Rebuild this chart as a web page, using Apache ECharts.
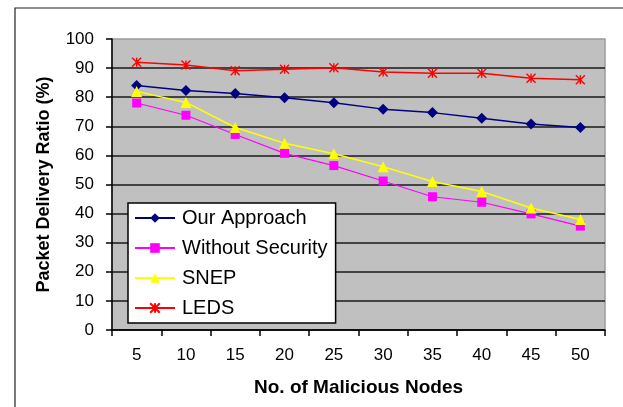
<!DOCTYPE html>
<html>
<head>
<meta charset="utf-8">
<style>
  html, body { margin: 0; padding: 0; background: #ffffff; }
  #chart { width: 623px; height: 407px; }
</style>
<script src="https://cdn.jsdelivr.net/npm/echarts@6/dist/echarts.min.js"></script>
</head>
<body>
<div id="chart"></div>
<script>
// Number of malicious nodes in the network
const nodes = ['5', '10', '15', '20', '25', '30', '35', '40', '45', '50'];

// Packet delivery ratio (%) per scheme
const ourApproach     = [84, 82.3, 81.3, 79.8, 78.1, 75.9, 74.7, 72.8, 70.8, 69.6];
const withoutSecurity = [78, 73.8, 67.2, 60.7, 56.5, 51.2, 45.8, 43.9, 39.9, 35.7];
const snep            = [82, 78.2, 69.6, 64.2, 60.6, 56.1, 51.0, 47.6, 41.9, 38.0];
const leds            = [92, 91.1, 89.1, 89.6, 90.1, 88.7, 88.2, 88.2, 86.5, 86.0];

const seriesNames = ['Our Approach', 'Without Security', 'SNEP', 'LEDS'];

const FONT = "'Liberation Sans', Arial, Helvetica, sans-serif";

// asterisk-style marker: an X crossed by a vertical bar
const starPath = 'path://M0,0L10,10M10,0L0,10M5,0L5,10';

const chart = echarts.init(document.getElementById('chart'), null, { renderer: 'canvas' });

chart.setOption({
  animation: false,
  backgroundColor: '#ffffff',
  textStyle: { fontFamily: FONT, color: '#000' },
  graphic: [{
    type: 'rect',
    shape: { x: 15, y: 8, width: 640, height: 420 },
    style: { fill: 'none', stroke: '#222', lineWidth: 1.2 },
    silent: true,
    z: -1
  }],
  grid: {
    left: 112, right: 18, top: 39, bottom: 77,
    show: true,
    backgroundColor: '#c0c0c0',
    borderColor: '#9a9a9a',
    borderWidth: 1.5
  },
  legend: {
    orient: 'vertical',
    left: 128,
    top: 203,
    backgroundColor: '#ffffff',
    borderColor: '#000',
    borderWidth: 1.5,
    borderRadius: 0,
    padding: [5, 8, 5, 6],
    itemWidth: 40,
    itemHeight: 12,
    itemGap: 10,
    textStyle: { fontFamily: FONT, fontSize: 20, color: '#000', lineHeight: 20, padding: [0, 0, 0, 2] },
    data: seriesNames
  },
  xAxis: {
    type: 'category',
    data: nodes,
    boundaryGap: true,
    name: 'No. of Malicious Nodes',
    nameLocation: 'middle',
    nameGap: 48,
    nameTextStyle: { fontFamily: FONT, fontSize: 19, fontWeight: 'bold', color: '#000' },
    axisLine: { lineStyle: { color: '#000', width: 1.5 } },
    axisTick: { show: true, length: 6, alignWithLabel: false, lineStyle: { color: '#000', width: 1.5 } },
    axisLabel: { fontFamily: FONT, fontSize: 17, color: '#000', margin: 17 },
    splitLine: { show: false }
  },
  yAxis: {
    type: 'value',
    min: 0, max: 100, interval: 10,
    name: 'Packet Delivery Ratio (%)',
    nameLocation: 'middle',
    nameRotate: 90,
    nameGap: 59,
    nameTextStyle: { fontFamily: FONT, fontSize: 18, fontWeight: 'bold', color: '#000' },
    axisLine: { show: true, lineStyle: { color: '#000', width: 1.5 } },
    axisTick: { show: true, length: 6, lineStyle: { color: '#000', width: 1.5 } },
    axisLabel: { fontFamily: FONT, fontSize: 17, color: '#000', margin: 18 },
    splitLine: { show: true, showMaxLine: false, lineStyle: { color: '#1a1a1a', width: 1.6 } }
  },
  series: [
    {
      name: seriesNames[0], type: 'line', data: ourApproach,
      symbol: 'diamond', symbolSize: 11,
      lineStyle: { color: '#000080', width: 1.5 },
      itemStyle: { color: '#000080' }
    },
    {
      name: seriesNames[1], type: 'line', data: withoutSecurity,
      symbol: 'rect', symbolSize: 9,
      lineStyle: { color: '#ff00ff', width: 1.2 },
      itemStyle: { color: '#ff00ff' }
    },
    {
      name: seriesNames[2], type: 'line', data: snep,
      symbol: 'triangle', symbolSize: 11,
      lineStyle: { color: '#ffff00', width: 1.5 },
      itemStyle: { color: '#ffff00' }
    },
    {
      name: seriesNames[3], type: 'line', data: leds,
      symbol: starPath, symbolSize: 9,
      lineStyle: { color: '#ff0000', width: 1.5 },
      itemStyle: { color: '#ff0000', borderColor: '#ff0000', borderWidth: 1.4 }
    }
  ]
});
</script>
</body>
</html>
